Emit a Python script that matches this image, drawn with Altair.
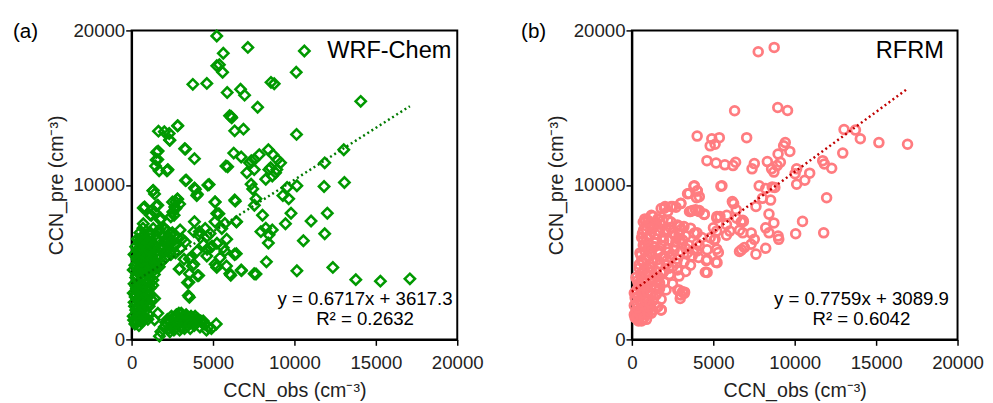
import altair as alt
import pandas as pd

# ---------------- Panel (a): WRF-Chem (obs, pre) ----------------
obs_a = [
    5230, 7140, 10610, 5630, 5230, 5390, 5590, 10110, 3760, 4620, 8560, 8760, 6690, 6940, 5870, 7740, 14070,
    6110, 6150, 6330, 6870, 10130, 1650, 2010, 2310, 2330, 2830, 3260, 3860, 1530, 1610, 1470, 2210, 13030,
    11860, 13070, 6270, 6730, 7240, 7540, 7840, 8400, 8680, 8950, 9150, 8540, 8840, 8640, 8240, 7080, 5790,
    3360, 4680, 3860, 4000, 7340, 7440, 7640, 9550, 9290, 9650, 10150, 11820, 1310, 1410, 2510, 2710, 2810,
    2610, 800, 1410, 1810, 1610, 1210, 5130, 5230, 6370, 8040, 7540, 9790, 12020, 11020, 9450, 11860, 10550,
    8440, 8240, 8640, 7940, 8400, 6430, 5730, 10150, 12360, 13770, 15280, 17090, 8280, 7640, 6730, 6090, 5830,
    6330, 6430, 5230, 5130, 5430, 5630, 4620, 4820, 4420, 4120, 3820, 2980, 4020, 3820, 3520, 4120, 3620,
    3480, 2920, 3220, 2410, 2410, 2010, 2210, 1810, 1410, 1410, 1610, 1710,
    1630, 1510, 2230, 3310, 6020, 7350, 7530, 8430, 8920, 5900, 2350, 2830,
    1690, 2170, 3310, 4760, 3920, 4040, 1330, 720, 1510, 1140, 1750, 720, 1330, 2050,
    2830, 2710, 2650, 2530, 2410, 2950, 5120, 5360, 6330, 6450, 3860, 4160, 5120, 5540, 4640, 5240, 5840,
    5720, 6330, 5240, 6030, 6750, 7530, 2950, 3550, 3730, 3430, 3550, 4040, 3550, 4520, 4820, 4940, 4640,
    # dense left column
    200, 300, 450, 600, 350, 500, 700, 250, 400, 650, 800, 150, 350, 550, 750, 950, 200, 450, 600, 850,
    300, 500, 700, 1000, 150, 400, 650, 900, 250, 500, 750, 1100, 350, 600, 850, 200, 450, 700, 1000, 1300,
    300, 550, 800, 1100, 1500, 400, 650, 900, 1200, 1600, 250, 500, 750, 1050, 1400, 1800, 350, 600, 900,
    1250, 1600, 2000, 2300, 2600, 500, 800, 1150, 1500, 1900, 2200, 2500, 2800, 3100, 3300, 700, 1700, 2400,
    2000, 2700, 3000, 100, 100, 100, 150, 1300, 1200, 1000, 1400, 1700, 2100, 2400, 1900, 2700,
    # bottom cluster
    1800, 2000, 2200, 2400, 2600, 2800, 3000, 3200, 2500, 2700, 2900, 3100, 3300, 3500, 3700, 3900, 4100,
    4300, 4500, 4700, 4900, 5200, 2300, 2600, 3000, 3400, 3800, 4200, 4600, 3600, 2100, 2800, 3200, 4000,
    4400, 3400, 2900,
]
pre_a = [
    19640, 18900, 18670, 18520, 17710, 17780, 17290, 17290, 16510, 16570, 16640, 16550, 16190, 15810, 15980,
    15030, 15410, 14430, 14350, 13500, 13610, 13270, 13480, 13440, 13330, 12910, 13820, 12340, 11700, 12110,
    11640, 11220, 10960, 12280, 11430, 10160, 12060, 11810, 11430, 11640, 11960, 12280, 11960, 11640, 11430,
    11110, 10790, 10580, 10370, 10790, 11220, 10310, 9990, 9800, 9310, 10050, 9740, 9100, 9840, 9310, 9100,
    9950, 9900, 9630, 9420, 8890, 8470, 9100, 8040, 8570, 8250, 7830, 8680, 8040, 8890, 8150, 8950, 8040,
    8680, 8170, 8170, 7660, 7490, 6840, 6390, 6770, 7200, 7090, 6980, 6240, 7620, 7510, 4440, 4660, 3870,
    3770, 3920, 5020, 4230, 4490, 4150, 4760, 5500, 5550, 4660, 4870, 5290, 5930, 5400, 5930, 6140, 6770,
    6980, 7090, 5710, 4870, 3700, 4130, 5290, 2840, 4550, 5190, 5500, 6770, 7200, 6350, 5930, 2650, 1270,
    1690, 210,
    12190, 11620, 10990, 12320, 14480, 11560, 10990, 10990, 10990, 11180, 12890, 13840,
    10920, 10920, 10290, 10030, 9720, 9400, 9650, 8510, 8640, 8060, 7750, 7490, 7180, 7110,
    9080, 8890, 8570, 8250, 7940, 8760, 8890, 8130, 9020, 7620, 7620, 6980, 7620, 7180, 6670, 6220, 6480,
    5720, 5520, 4760, 4250, 4450, 4250, 4570, 5210, 4760, 3680, 4250, 4130, 2730, 7180, 6860, 6030, 5840,
    # dense left column
    1000, 1200, 900, 1100, 1500, 1700, 1400, 1900, 2100, 2000, 1800, 2400, 2600, 2500, 2300, 2200, 2900,
    3000, 2800, 2700, 3300, 3400, 3200, 3100, 3600, 3700, 3900, 3600, 4000, 4200, 4100, 4000, 4500, 4600,
    4400, 4800, 5000, 4900, 4700, 4600, 5300, 5400, 5200, 5100, 5000, 5700, 5800, 5600, 5500, 5400, 6000,
    6200, 6100, 6000, 5900, 5800, 6500, 6600, 6400, 6300, 6500, 6400, 6600, 6700, 6900, 6800, 6900, 6800,
    6700, 7000, 6900, 6600, 6500, 6300, 7200, 7100, 6200, 6000, 6100, 5900, 1500, 3000, 4500, 5500, 3500,
    2600, 1300, 4200, 4700, 5300, 5700, 5100, 5600,
    # bottom cluster
    500, 800, 1000, 1200, 1400, 1500, 1600, 1500, 900, 1100, 1200, 1300, 1200, 1300, 1400, 1500, 1300,
    1100, 1000, 800, 700, 1000, 700, 600, 800, 900, 1000, 800, 600, 700, 1100, 1000, 1100, 1100, 1200,
    1500, 1700,
]
# extra points filling the dense low-obs column of panel (a)
obs_a2 = [
    120, 280, 420, 560, 700, 850, 1000,
    180, 330, 480, 630, 780, 930, 1080,
    220, 370, 520, 670, 820, 970, 1120,
    260, 410, 560, 710, 860, 1010, 1160, 1310,
    300, 450, 600, 750, 900, 1050, 1200, 1350, 1550, 1750,
    340, 490, 640, 790, 940, 1090, 1240, 1450, 1650, 1850, 2050, 2250, 2500,
    380, 530, 680, 830, 980, 1130, 1280,
    2200, 2450, 2750, 3050, 3350, 3650, 3950, 4250, 2350, 2650, 2950, 3250, 3550, 3850,
]
pre_a2 = [
    1250, 1050, 1350, 1250, 1550, 1350, 1650,
    2150, 1950, 2250, 2350, 2050, 2450, 2150,
    2750, 3150, 2650, 3050, 2950, 3350, 2850,
    3450, 3250, 3550, 3450, 3850, 3750, 3350, 3850,
    4150, 4350, 4250, 4450, 4750, 4350, 4850, 4450, 4650, 4950,
    5150, 5550, 5050, 5450, 5350, 5750, 5250, 5650, 5150, 5950, 5650, 6150, 6350,
    5850, 6450, 6350, 6550, 6250, 6750, 6050,
    1300, 1500, 1600, 1700, 1600, 1500, 1300, 1200, 500, 700, 600, 700, 1000, 900,
]

# ---------------- Panel (b): RFRM (obs, pre) ----------------
obs_b = [
    7760, 8740, 6310, 8960, 9560, 4010, 4910, 5370, 4810, 5110, 7050, 13030, 13730, 14030, 15170, 16930,
    12950, 9320, 9420, 8980, 9120, 8920, 9700, 4610, 5170, 5710, 6210, 6370, 7380, 7520, 8320, 8580, 8720,
    10120, 10020, 10120, 10620, 10920, 11720, 11820, 12270, 11960, 10480, 10060, 11780, 7820, 8220, 8020,
    8620, 8520, 8780, 8420, 7620, 8720, 8980, 9020, 8420, 8220, 8220, 7620, 7320, 7520, 6810, 6910, 6610,
    5470, 6170, 6410, 6810, 6710, 5810, 6010, 5810, 5210, 5410, 5010, 5210, 4810, 5110, 5210, 5310, 5170,
    4570, 4510, 4010, 3810, 4010, 3970, 3510, 3610, 3910, 4110, 4450, 3010, 2410, 2710, 2000, 2200,
    2910, 3110, 2970, 3210, 1800, 1600,
    3840, 4020, 3420, 4140, 5530, 3000, 2520, 2040, 1800, 3720, 4140, 4440, 3540, 1200, 840, 720, 720, 1320,
    2220, 2940, 3120, 3840, 4140, 5230, 5830, 6430, 6850, 6250, 5050, 4620, 5230, 4620, 4620, 6610, 7330,
    6730, 2820, 3000, 3240, 1800, 1140,
    # dense main blob
    200, 350, 500, 700, 250, 450, 650, 900, 300, 550, 800, 1100, 200, 400, 700, 1000, 1300, 300, 600, 900,
    1200, 1500, 400, 700, 1000, 1400, 1700, 250, 550, 850, 1200, 1600, 2000, 450, 750, 1100, 1500, 1900,
    2300, 600, 900, 1300, 1700, 2100, 2500, 2800, 500, 800, 1200, 1600, 2000, 2400, 2800, 3200, 700, 1000,
    1400, 1800, 2200, 2600, 3000, 3400, 3700, 600, 1100, 1500, 1900, 2300, 2700, 3100, 3500, 900, 1300,
    1700, 2100, 2500, 2900, 3300, 700, 1000, 1500, 2400, 2800, 3200, 3600, 4000, 4300, 4000, 3800, 4100,
    3600, 3300, 2900, 2500, 2100, 1800, 1500, 1200, 900, 400, 150, 150, 150, 600,
]
pre_b = [
    18620, 18900, 14800, 15010, 14820, 13160, 12990, 13060, 12530, 12630, 13060, 13590, 13550, 12990, 12740,
    12630, 12060, 12530, 12740, 12000, 11470, 11250, 12170, 11570, 11420, 11300, 11250, 11470, 11040, 11380,
    11510, 11040, 10830, 11040, 10720, 10040, 10300, 10760, 11570, 11360, 11080, 9170, 7640, 6840, 6900,
    9940, 9770, 9130, 9870, 9020, 9830, 8110, 8600, 7540, 6690, 6480, 6900, 7220, 5900, 5520, 6160, 6480,
    6900, 5950, 5690, 9920, 8920, 8390, 7710, 7600, 7430, 7010, 6750, 7860, 7960, 7220, 7010, 6580, 6480,
    5840, 5630, 4990, 5100, 4350, 5730, 9920, 9600, 9170, 9450, 8280, 8390, 8280, 8110, 8810, 8600, 8560,
    8490, 8280, 3190, 3080, 2650, 2970, 1910, 2120,
    9940, 9620, 9430, 9240, 9940, 8790, 8600, 8600, 8470, 8340, 8340, 8090, 8280, 8030, 7640, 7070, 6430,
    7390, 7710, 7330, 6430, 6880, 6050, 7960, 8030, 7840, 7640, 8790, 6430, 5800, 4970, 5160, 4330, 7070,
    6880, 5800, 3190, 2870, 3060, 1910, 2230,
    # dense main blob
    1400, 1300, 1500, 1600, 1800, 1900, 2000, 1800, 2300, 2400, 2200, 2100, 2700, 2800, 2700, 2600, 2500,
    3200, 3100, 3300, 3000, 2900, 3600, 3700, 3500, 3400, 3300, 4000, 4100, 4200, 3900, 3800, 3700, 4600,
    4500, 4700, 4400, 4300, 4200, 5100, 5200, 5000, 4900, 4800, 4700, 4500, 5600, 5700, 5500, 5600, 5400,
    5300, 5200, 5000, 6100, 6200, 6000, 6100, 5900, 5800, 5700, 5600, 5400, 6600, 6700, 6500, 6600, 6400,
    6300, 6200, 6100, 7100, 7200, 7000, 7100, 6900, 6800, 6700, 7600, 7700, 7500, 7600, 7400, 7300, 7200,
    6900, 6600, 6200, 5800, 5300, 4800, 4400, 4100, 3600, 3200, 2600, 2100, 1700, 1300, 1200, 1600, 2200,
    3000, 1200,
]
# extra points filling the dense blob of panel (b)
obs_b2 = [
    300, 500, 750, 1000, 1250,
    350, 600, 850, 1100, 1350,
    250, 450, 700, 950, 1200, 1450, 1700,
    350, 600, 850, 1100, 1350, 1650, 1950, 2250,
    450, 700, 950, 1250, 1550, 1850, 2150, 2450, 2750,
    550, 800, 1050, 1350, 1650, 1950, 2250, 2600, 2950, 3300,
    650, 900, 1150, 1450, 1750, 2050, 2350, 2650, 3000,
    800, 1050, 1300, 1600, 1900,
]
pre_b2 = [
    1500, 1700, 1400, 1650, 1900,
    2050, 2250, 2500, 2350, 2700,
    2950, 3400, 2950, 3100, 3450, 3250, 3650,
    3800, 4300, 3850, 4350, 4150, 4050, 4400, 4600,
    4850, 4950, 5400, 4650, 5150, 5300, 5100, 5500, 4950,
    5450, 6050, 5850, 6300, 5750, 6400, 5650, 6000, 6450, 5900,
    6850, 6550, 7350, 6800, 7450, 6950, 7250, 6700, 7100,
    7800, 7450, 7950, 7800, 7700,
]

# Fitted trend lines as printed on the chart
slope_a, icpt_a, xmax_a = 0.6717, 3617.3, 17090
slope_b, icpt_b, xmax_b = 0.7759, 3089.9, 16930

x_ticks = [0, 5000, 10000, 15000, 20000]
y_ticks = [0, 10000, 20000]
FONT = "Liberation Sans"

W, H = 332, 315


def panel(obs, pre, shape, color, size, sw, slope, icpt, xmax, lcolor,
          tag, model, eq, r2, tag_x, model_x, eq_x):
    df = pd.DataFrame({"obs": obs, "pre": pre})
    xs = alt.Scale(domain=[0, 20000], nice=False, zero=True)
    ys = alt.Scale(domain=[0, 20000], nice=False, zero=True)
    xax = alt.Axis(values=x_ticks, title="CCN_obs (cm⁻³)", format="d", labelPadding=9, titlePadding=8)
    yax = alt.Axis(values=y_ticks, title="CCN_pre (cm⁻³)", format="d", labelPadding=1, titlePadding=7)
    pts = alt.Chart(df).mark_point(
        shape=shape, filled=False, size=size, strokeWidth=sw, color=color, opacity=1
    ).encode(x=alt.X("obs:Q", scale=xs, axis=xax), y=alt.Y("pre:Q", scale=ys, axis=yax))
    tdf = pd.DataFrame({"obs": [0, xmax], "pre": [icpt, slope * xmax + icpt]})
    line = alt.Chart(tdf).mark_line(
        strokeDash=[2, 3], strokeWidth=2.5, color=lcolor
    ).encode(x=alt.X("obs:Q", scale=xs), y=alt.Y("pre:Q", scale=ys))
    tag_t = alt.Chart(pd.DataFrame({"t": [tag]})).mark_text(
        align="left", baseline="middle", fontSize=21, font=FONT, color="black"
    ).encode(text="t:N", x=alt.value(tag_x), y=alt.value(2))
    model_t = alt.Chart(pd.DataFrame({"t": [model]})).mark_text(
        align="right", baseline="middle", fontSize=24, font=FONT, color="black"
    ).encode(text="t:N", x=alt.value(model_x), y=alt.value(21))
    eq_t = alt.Chart(pd.DataFrame({"t": [eq]})).mark_text(
        align="center", baseline="middle", fontSize=19, font=FONT, color="black"
    ).encode(text="t:N", x=alt.value(eq_x), y=alt.value(274))
    r2_t = alt.Chart(pd.DataFrame({"t": [r2]})).mark_text(
        align="center", baseline="middle", fontSize=19, font=FONT, color="black"
    ).encode(text="t:N", x=alt.value(eq_x), y=alt.value(294))
    return alt.layer(pts, line, tag_t, model_t, eq_t, r2_t).properties(width=W, height=H)


pa = panel(obs_a + obs_a2, pre_a + pre_a2, "diamond", "#009900", 110, 2.6, slope_a, icpt_a, xmax_a,
           "#007a00", "(a)", "WRF-Chem", "y = 0.6717x + 3617.3", "R² = 0.2632", -121, 326, 238)
pb = panel(obs_b + obs_b2, pre_b + pre_b2, "circle", "#FF7C80", 80, 2.8, slope_b, icpt_b, xmax_b,
           "#C00000", "(b)", "RFRM", "y = 0.7759x + 3089.9", "R² = 0.6042", -113, 318, 234)

chart = alt.hconcat(pa, pb, spacing=36).properties(
    padding={"left": 4, "top": 9, "right": 0, "bottom": 0}
).configure_view(
    stroke="black", strokeWidth=2
).configure_axis(
    grid=False, domainColor="black", domainWidth=2, tickColor="black", tickWidth=1.5, tickSize=6,
    labelFont=FONT, labelFontSize=19, labelColor="#222222",
    titleFont=FONT, titleFontSize=20, titleFontWeight="normal", titleColor="#222222",
    labelFlush=False, labelOverlap=False
)

chart.save("out.html", embed_options={"renderer": "svg", "actions": False})
